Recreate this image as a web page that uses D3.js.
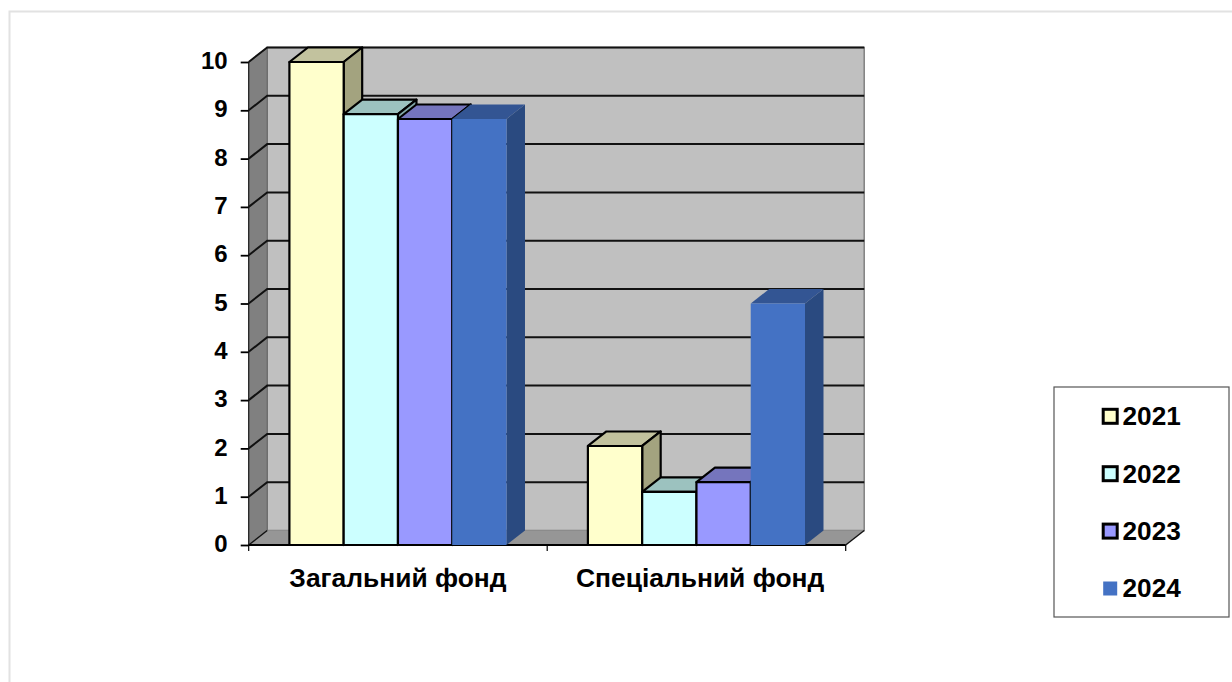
<!DOCTYPE html>
<html><head><meta charset="utf-8">
<script src="https://cdnjs.cloudflare.com/ajax/libs/d3/7.8.5/d3.min.js"></script>
<style>html,body{margin:0;padding:0;background:#fff}svg{display:block}text{font-family:"Liberation Sans",Arial,sans-serif;font-weight:bold;fill:#000}</style>
</head><body><svg id="c" width="1232" height="682"></svg>
<script>
const categories=["Загальний фонд","Спеціальний фонд"];
const years=["2021","2022","2023","2024"];
const v2021=[10,2.05];
const v2022=[8.92,1.1];
const v2023=[8.82,1.3];
const v2024=[8.82,5];
const seriesValues=[v2021,v2022,v2023,v2024];
const yTicks=[0,1,2,3,4,5,6,7,8,9,10];
const fronts=["#FFFFCC","#CCFFFF","#9999FF","#4472C4"];
const tops=["#C2C29E","#9CC2BF","#7575BD","#335593"];
const sides=["#A3A37F","#82A8A8","#6666AA","#2A4A80"];
const strokes=["#000","#000","#000","none"];

const svg=d3.select("#c");
const dx=18.5,dy=-14.5;
const x0=d3.scaleBand().domain(categories).range([248.7,845.7]);
const x1=d3.scaleBand().domain(years).range([0,x0.bandwidth()]).paddingInner(0).paddingOuter(0.75);
const y=d3.scaleLinear().domain([0,10]).range([545,62]);
const pts=a=>a.map(p=>p.join(",")).join(" ");
const L=248.7,R=845.7,B=y(0),T=y(10);

svg.append("path").attr("d","M9.5,682V11.5H1232").attr("fill","none").attr("stroke","#e2e2e2").attr("stroke-width",2);

// walls
svg.append("polygon").attr("points",pts([[L+dx,T+dy],[R+dx,T+dy],[R+dx,B+dy],[L+dx,B+dy]])).attr("fill","#C0C0C0").attr("stroke","#808080").attr("stroke-width",1.5);
svg.append("polygon").attr("points",pts([[L,T],[L+dx,T+dy],[L+dx,B+dy],[L,B]])).attr("fill","#808080").attr("stroke","#666").attr("stroke-width",1);
svg.append("polygon").attr("points",pts([[L,B],[L+dx,B+dy],[R+dx,B+dy],[R,B]])).attr("fill","#969696");

// gridlines across side and back walls
svg.append("g").selectAll("polyline").data(yTicks.filter(d=>d>0)).join("polyline")
  .attr("points",d=>pts([[L,y(d)],[L+dx,y(d)+dy],[R+dx,y(d)+dy]]))
  .attr("fill","none").attr("stroke","#111").attr("stroke-width",2);
svg.append("polyline").attr("points",pts([[L,B],[L+dx,B+dy]])).attr("fill","none").attr("stroke","#111").attr("stroke-width",1.4);
svg.append("polyline").attr("points",pts([[R,B],[R+dx,B+dy]])).attr("fill","none").attr("stroke","#111").attr("stroke-width",1.4);
svg.append("line").attr("x1",L).attr("x2",L).attr("y1",T).attr("y2",B).attr("stroke","#222").attr("stroke-width",1.2);

// axes
const ay=svg.append("g").attr("transform",`translate(${L},0)`).call(d3.axisLeft(y).tickValues(yTicks).tickSize(8).tickPadding(13).tickFormat(d3.format("d")));
ay.select(".domain").remove();
ay.selectAll("line").attr("stroke","#000").attr("stroke-width",1.8);
ay.selectAll("text").attr("font-size",24).attr("dy","0.32em").attr("y",-1);

svg.append("line").attr("x1",L).attr("x2",R).attr("y1",B).attr("y2",B).attr("stroke","#000").attr("stroke-width",1.8);
const xEdges=[L,x0(categories[1]),R];
svg.append("g").selectAll("line").data(xEdges).join("line")
  .attr("x1",d=>d).attr("x2",d=>d).attr("y1",B).attr("y2",B+6).attr("stroke","#000").attr("stroke-width",1.2);
svg.append("g").selectAll("text").data(categories).join("text")
  .attr("x",(d,i)=>x0(d)+x0.bandwidth()/2+(i===1?3.7:0)).attr("y",586.5).attr("text-anchor","middle").attr("font-size",26.4).text(d=>d);

// bars
categories.forEach((c,ci)=>{
  years.forEach((yr,si)=>{
    const v=seriesValues[si][ci];
    const xa=x0(c)+x1(yr), xb=xa+x1.bandwidth(), yt=y(v);
    const g=svg.append("g").attr("stroke",strokes[si]).attr("stroke-width",2.2).attr("stroke-linejoin","round");
    g.append("polygon").attr("points",pts([[xa,yt],[xa+dx,yt+dy],[xb+dx,yt+dy],[xb,yt]])).attr("fill",tops[si]);
    g.append("polygon").attr("points",pts([[xb,yt],[xb+dx,yt+dy],[xb+dx,B+dy],[xb,B]])).attr("fill",sides[si]);
    g.append("rect").attr("x",xa).attr("y",yt).attr("width",xb-xa).attr("height",B-yt).attr("fill",fronts[si]);
  });
});

// legend
svg.append("rect").attr("x",1054).attr("y",387).attr("width",175).attr("height",230).attr("fill","#fff").attr("stroke","#555").attr("stroke-width",1.2);
const ly=d3.scalePoint().domain(years).range([416.3,588.5]);
const lg=svg.append("g").selectAll("g").data(years).join("g").attr("transform",d=>`translate(0,${ly(d)})`);
lg.append("rect").attr("x",1103.2).attr("y",-7).attr("width",14).attr("height",14)
  .attr("fill",(d,i)=>fronts[i]).attr("stroke",(d,i)=>strokes[i]).attr("stroke-width",3);
lg.append("text").attr("x",1122.5).attr("y",8.8).attr("font-size",26.2).text(d=>d);
</script></body></html>
